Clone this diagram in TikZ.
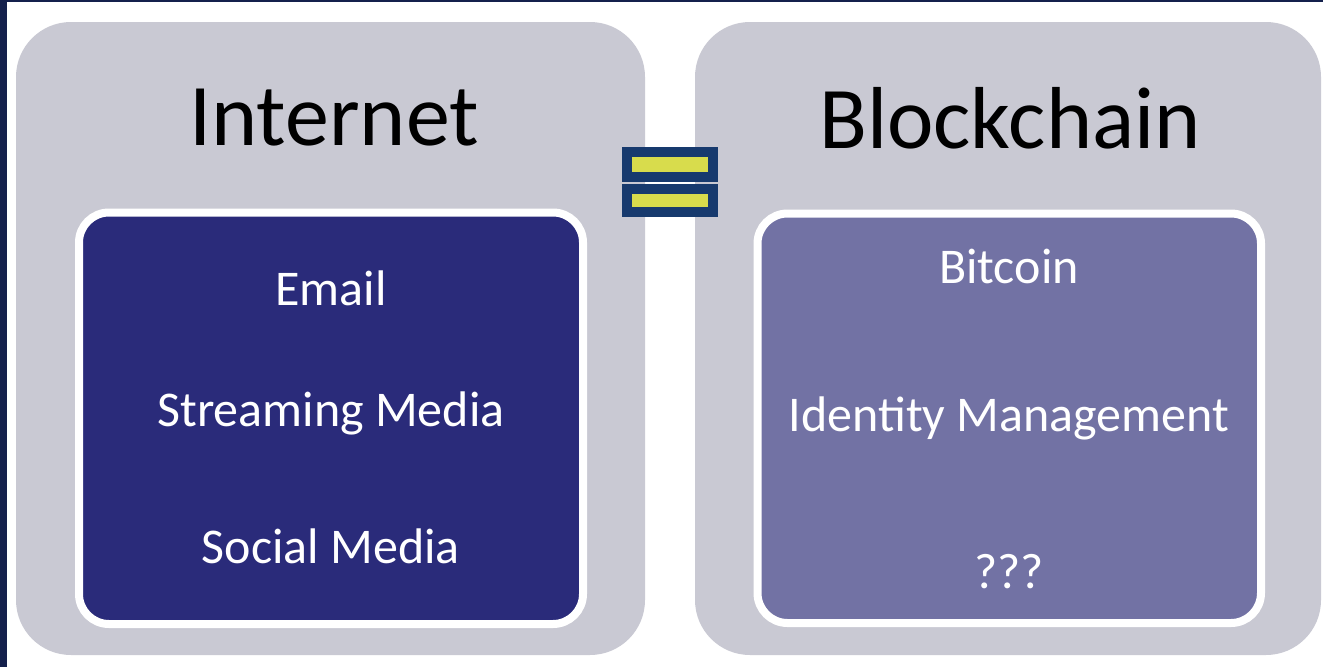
\documentclass[tikz,border=0pt]{standalone}
\usepackage{fontspec}
\setmainfont{Carlito}
\definecolor{framenavy}{HTML}{14204C}
\definecolor{panelgray}{HTML}{C9C9D3}
\definecolor{listnavy}{HTML}{2A2B7A}
\definecolor{listlilac}{HTML}{7272A4}
\definecolor{eqblue}{HTML}{173A6E}
\definecolor{eqyellow}{HTML}{D8DC4C}
\tikzset{
  panel/.style={fill=panelgray, rounded corners=55pt, inner sep=0pt},
  listbox/.style={draw=white, line width=8pt, rounded corners=30pt, inner sep=0pt},
  eqbar/.style={fill=eqyellow, draw=eqblue, line width=10pt, inner sep=0pt, minimum width=86pt},
  title/.style={font=\fontsize{88}{100}\selectfont, text=black},
  item/.style={font=\fontsize{50}{60}\selectfont, text=white},
}
\begin{document}
\begin{tikzpicture}[x=1pt, y=-1pt]
  % page, with the dark frame on the left and top
  \useasboundingbox (0, 0) rectangle (1323, 667);
  \fill[white] (0, 0) rectangle (1323, 667);
  \fill[framenavy] (0, 0) rectangle (7, 667);
  \fill[framenavy] (0, 0) rectangle (1323, 2);
  % the two panels
  \node[panel, minimum width=629pt, minimum height=633pt] (internetpanel) at (330.5, 338.5) {};
  \node[panel, minimum width=626pt, minimum height=633pt] (blockchainpanel) at (1008, 338.5) {};
  \node[listbox, fill=listnavy, minimum width=504pt, minimum height=411.5pt] (internetlist) at (331, 418.25) {};
  \node[listbox, fill=listlilac, minimum width=503.5pt, minimum height=409.5pt] (blockchainlist) at (1009.25, 418.25) {};
  % equals sign
  \node[eqbar, minimum height=25pt] (eqtop) at (670, 164.5) {};
  \node[eqbar, minimum height=23pt] (eqbottom) at (670, 200.5) {};
  % titles
  \node[title] (internet) at (334, 118) {Internet};
  \node[title] (blockchain) at (1010, 118) {Blockchain};
  % list items
  \node[item] (email) at (331, 288) {Email};
  \node[item] (streaming) at (331, 413) {Streaming Media};
  \node[item] (social) at (331, 546) {Social Media};
  \node[item] (bitcoin) at (1009, 266) {Bitcoin};
  \node[item] (identity) at (1009, 418) {Identity Management};
  \node[item] (unknown) at (1009, 572) {???};
\end{tikzpicture}
\end{document}
